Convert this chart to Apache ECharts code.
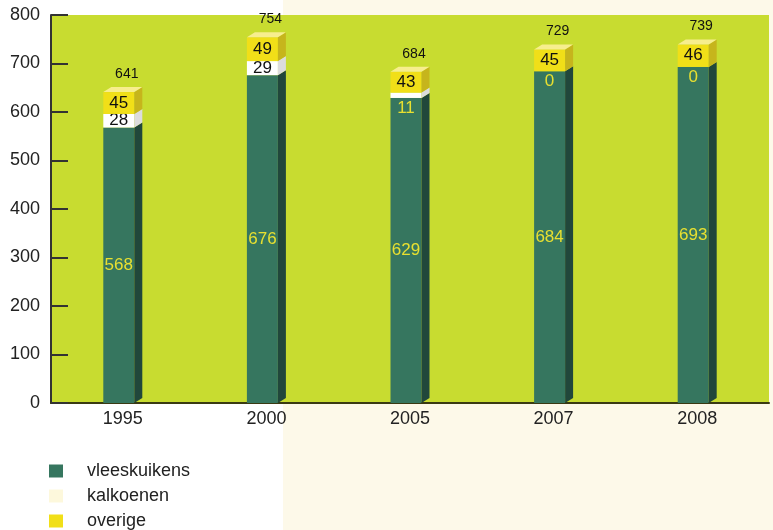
<!DOCTYPE html>
<html>
<head>
<meta charset="utf-8">
<script src="https://cdn.jsdelivr.net/npm/echarts@6/dist/echarts.min.js"></script>
<style>
html,body{margin:0;padding:0;}
#chart{width:773px;height:530px;background:linear-gradient(to right,#ffffff 283px,#fdf9e9 283px);}
</style>
</head>
<body>
<div id="chart"></div>
<script>
const years = ['1995', '2000', '2005', '2007', '2008'];
const vleeskuikens = [568, 676, 629, 684, 693];
const kalkoenen = [28, 29, 11, 0, 0];
const overige = [45, 49, 43, 45, 46];
const totals = [641, 754, 684, 729, 739];
const yTicks = [0, 100, 200, 300, 400, 500, 600, 700, 800];

const FONT = '"Liberation Sans", Arial, Helvetica, sans-serif';
const W = 31, DX = 8, DY = 5;

const colors = {
  veg: { front: '#36765f', side: '#21473b', top: '#5a9a82' },
  kal: { front: '#ffffff', side: '#dcdcdc', top: '#ffffff' },
  ove: { front: '#f1df18', side: '#c6b51c', top: '#f7ee8e' }
};

function seg(values, bases) {
  return values.map((v, i) => [i, bases[i], bases[i] + v, v]);
}
const base0 = years.map(() => 0);
const base1 = vleeskuikens.slice();
const base2 = vleeskuikens.map((v, i) => v + kalkoenen[i]);

function makeRender(c, kind) {
  return function (params, api) {
    const idx = api.value(0), lo = api.value(1), hi = api.value(2), val = api.value(3);
    const p0 = api.coord([idx, lo]);
    const p1 = api.coord([idx, hi]);
    const cx = p0[0];
    const left = cx - (W + DX) / 2;
    const right = left + W;
    const yb = p0[1], yt = p1[1];
    const children = [];
    if (yb - yt > 0.01) {
      children.push({ type: 'rect', shape: { x: left, y: yt, width: W, height: yb - yt }, style: { fill: c.front } });
      children.push({ type: 'polygon', shape: { points: [[right, yt], [right + DX, yt - DY], [right + DX, yb - DY], [right, yb]] }, style: { fill: c.side } });
    }
    const fc = left + W / 2;
    const f = '17px ' + FONT;
    if (kind === 'veg') {
      children.push({ type: 'text', style: { text: String(val), x: fc, y: (yb + yt) / 2, align: 'center', verticalAlign: 'middle', fill: '#e8e030', font: f } });
    } else if (kind === 'kal') {
      if (yb - yt >= 12) {
        children.push({ type: 'text', style: { text: String(val), x: fc, y: (yb + yt) / 2, align: 'center', verticalAlign: 'middle', fill: '#111111', font: f } });
      } else {
        children.push({ type: 'text', style: { text: String(val), x: fc, y: yb + 10, align: 'center', verticalAlign: 'middle', fill: '#e8e030', font: f } });
      }
    } else {
      children.push({ type: 'polygon', shape: { points: [[left, yt], [left + DX, yt - DY], [right + DX, yt - DY], [right, yt]] }, style: { fill: c.top } });
      children.push({ type: 'text', style: { text: String(val), x: fc, y: (yb + yt) / 2, align: 'center', verticalAlign: 'middle', fill: '#111111', font: f } });
      children.push({ type: 'text', style: { text: String(totals[idx]), x: cx + 4, y: yt - 18, align: 'center', verticalAlign: 'middle', fill: '#111111', font: '14px ' + FONT } });
    }
    return { type: 'group', children: children };
  };
}

const chart = echarts.init(document.getElementById('chart'), null, { renderer: 'canvas' });
chart.setOption({
  animation: false,
  textStyle: { fontFamily: FONT },
  grid: { left: 51, right: 4, top: 15, bottom: 127, show: true, backgroundColor: '#c8dc30', borderWidth: 0 },
  legend: {
    orient: 'vertical', left: 49, top: 462, height: 80, itemWidth: 14, itemHeight: 13, itemGap: 7,
    icon: 'rect', padding: 0,
    textStyle: { fontSize: 18, color: '#222222', fontFamily: FONT, padding: [0, 0, 0, 19] },
    data: ['vleeskuikens', 'kalkoenen', 'overige']
  },
  xAxis: {
    type: 'category', data: years,
    axisLine: { show: true, lineStyle: { color: '#3a3a12', width: 2 } },
    axisTick: { show: false },
    axisLabel: { color: '#222222', fontSize: 18, margin: 7, fontFamily: FONT }
  },
  yAxis: {
    type: 'value', min: yTicks[0], max: yTicks[yTicks.length - 1], interval: 100,
    axisLine: { show: true, lineStyle: { color: '#333333', width: 2 } },
    axisTick: { show: true, inside: true, length: 17, lineStyle: { color: '#333333', width: 2 } },
    axisLabel: { color: '#222222', fontSize: 18, margin: 11, fontFamily: FONT },
    splitLine: { show: false }
  },
  series: [
    { name: 'vleeskuikens', type: 'custom', renderItem: makeRender(colors.veg, 'veg'), itemStyle: { color: '#36765f' }, data: seg(vleeskuikens, base0), encode: { x: 0, y: [1, 2] } },
    { name: 'kalkoenen', type: 'custom', renderItem: makeRender(colors.kal, 'kal'), itemStyle: { color: '#fdf8dc' }, data: seg(kalkoenen, base1), encode: { x: 0, y: [1, 2] } },
    { name: 'overige', type: 'custom', renderItem: makeRender(colors.ove, 'ove'), itemStyle: { color: '#f1df18' }, data: seg(overige, base2), encode: { x: 0, y: [1, 2] } }
  ]
});
</script>
</body>
</html>
